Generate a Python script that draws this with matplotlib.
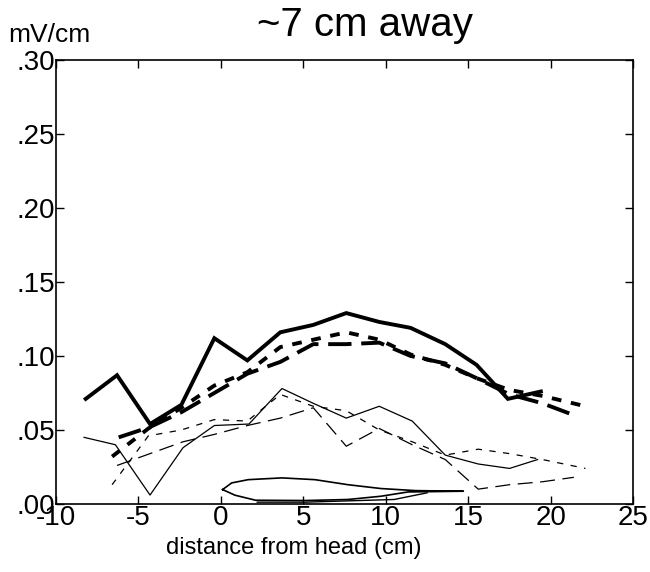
import numpy as np
import matplotlib.pyplot as plt

plt.rcParams['font.family'] = ['Liberation Sans', 'DejaVu Sans']

# thick curves
x_thick_solid = [-8.2, -6.3, -4.3, -2.4, -0.4, 1.6, 3.6, 5.6, 7.6, 9.6, 11.5, 13.6, 15.5, 17.4, 19.4]
y_thick_solid = [0.071, 0.087, 0.054, 0.067, 0.112, 0.097, 0.116, 0.121, 0.129, 0.123, 0.119, 0.108, 0.094, 0.071, 0.076]

x_thick_dot = [-6.6, -4.4, -2.4, -0.4, 1.6, 3.6, 5.6, 7.6, 9.6, 11.5, 13.6, 15.5, 17.5, 19.5, 22.1]
y_thick_dot = [0.032, 0.051, 0.065, 0.080, 0.089, 0.106, 0.111, 0.116, 0.111, 0.101, 0.094, 0.085, 0.077, 0.073, 0.066]

x_thick_dash = [-6.2, -4.3, -2.4, -0.4, 1.6, 3.6, 5.6, 7.6, 9.6, 11.5, 13.6, 15.5, 17.5, 19.5, 21.4]
y_thick_dash = [0.045, 0.052, 0.062, 0.075, 0.088, 0.096, 0.108, 0.108, 0.109, 0.100, 0.095, 0.085, 0.074, 0.068, 0.060]

# thin curves
x_thin_solid = [-8.3, -6.4, -4.3, -2.3, -0.4, 1.7, 3.7, 5.6, 7.6, 9.6, 11.6, 13.6, 15.6, 17.5, 19.2]
y_thin_solid = [0.045, 0.040, 0.006, 0.038, 0.053, 0.054, 0.078, 0.068, 0.058, 0.066, 0.056, 0.033, 0.027, 0.024, 0.030]

x_thin_dot = [-6.6, -4.4, -2.4, -0.4, 1.6, 3.6, 5.6, 7.6, 9.6, 11.6, 13.6, 15.6, 17.5, 19.5, 22.1]
y_thin_dot = [0.013, 0.046, 0.050, 0.057, 0.056, 0.074, 0.066, 0.063, 0.050, 0.042, 0.033, 0.037, 0.034, 0.030, 0.024]

x_thin_dash = [-6.3, -4.3, -2.3, -0.4, 1.6, 3.6, 5.6, 7.6, 9.6, 11.6, 13.6, 15.6, 17.5, 19.5, 21.4]
y_thin_dash = [0.026, 0.034, 0.042, 0.047, 0.053, 0.058, 0.065, 0.039, 0.051, 0.040, 0.030, 0.010, 0.013, 0.015, 0.018]

# head outline near the bottom
x_loop = [0.1, 0.65, 1.65, 3.7, 5.7, 7.7, 9.7, 11.8, 14.7, 11.35, 9.7, 7.7, 5.1, 2.1, 0.85, 0.1]
y_loop = [0.0097, 0.0142, 0.0164, 0.0176, 0.0164, 0.013, 0.0104, 0.009, 0.0086, 0.0081, 0.0052, 0.003, 0.0023, 0.0025, 0.0059, 0.0097]
x_base = [2.2, 5.1, 10.5, 12.5]
y_base = [0.0012, 0.0012, 0.003, 0.0075]

fig = plt.figure(figsize=(6.5, 5.72), dpi=100)
ax = fig.add_axes([0.0862, 0.119, 0.888, 0.776])

ax.plot(x_thick_solid, y_thick_solid, color='black', lw=2.8, solid_joinstyle='miter')
ax.plot(x_thick_dot, y_thick_dot, color='black', lw=2.8, linestyle=(0, (2.5, 2.5)))
ax.plot(x_thick_dash, y_thick_dash, color='black', lw=2.8, linestyle=(0, (6, 2.5)))
ax.plot(x_thin_solid, y_thin_solid, color='black', lw=0.9)
ax.plot(x_thin_dot, y_thin_dot, color='black', lw=0.9, linestyle=(0, (5, 6)))
ax.plot(x_thin_dash, y_thin_dash, color='black', lw=0.9, linestyle=(0, (12, 6)))
ax.plot(x_loop, y_loop, color='black', lw=1.2)
ax.plot(x_base, y_base, color='black', lw=1.0)

ax.set_xlim(-10, 25)
ax.set_ylim(0, 0.30)
xt = [-10, -5, 0, 5, 10, 15, 20, 25]
yt = [0.0, 0.05, 0.10, 0.15, 0.20, 0.25, 0.30]
ax.set_xticks(xt)
ax.set_xticklabels([str(v) for v in xt])
ax.set_yticks(yt)
ax.set_yticklabels(['.00', '.05', '.10', '.15', '.20', '.25', '.30'])
ax.tick_params(direction='in', top=True, right=True, length=6, width=1, labelsize=20, pad=1)
for s in ax.spines.values():
    s.set_linewidth(1.2)

fig.text(0.452, 0.042, 'distance from head (cm)', fontsize=17, ha='center', va='center')
fig.text(0.562, 0.956, '~7 cm away', fontsize=29, ha='center', va='center')
fig.text(0.012, 0.939, 'mV/cm', fontsize=19, ha='left', va='center')

fig.savefig('out.png', dpi=100)
